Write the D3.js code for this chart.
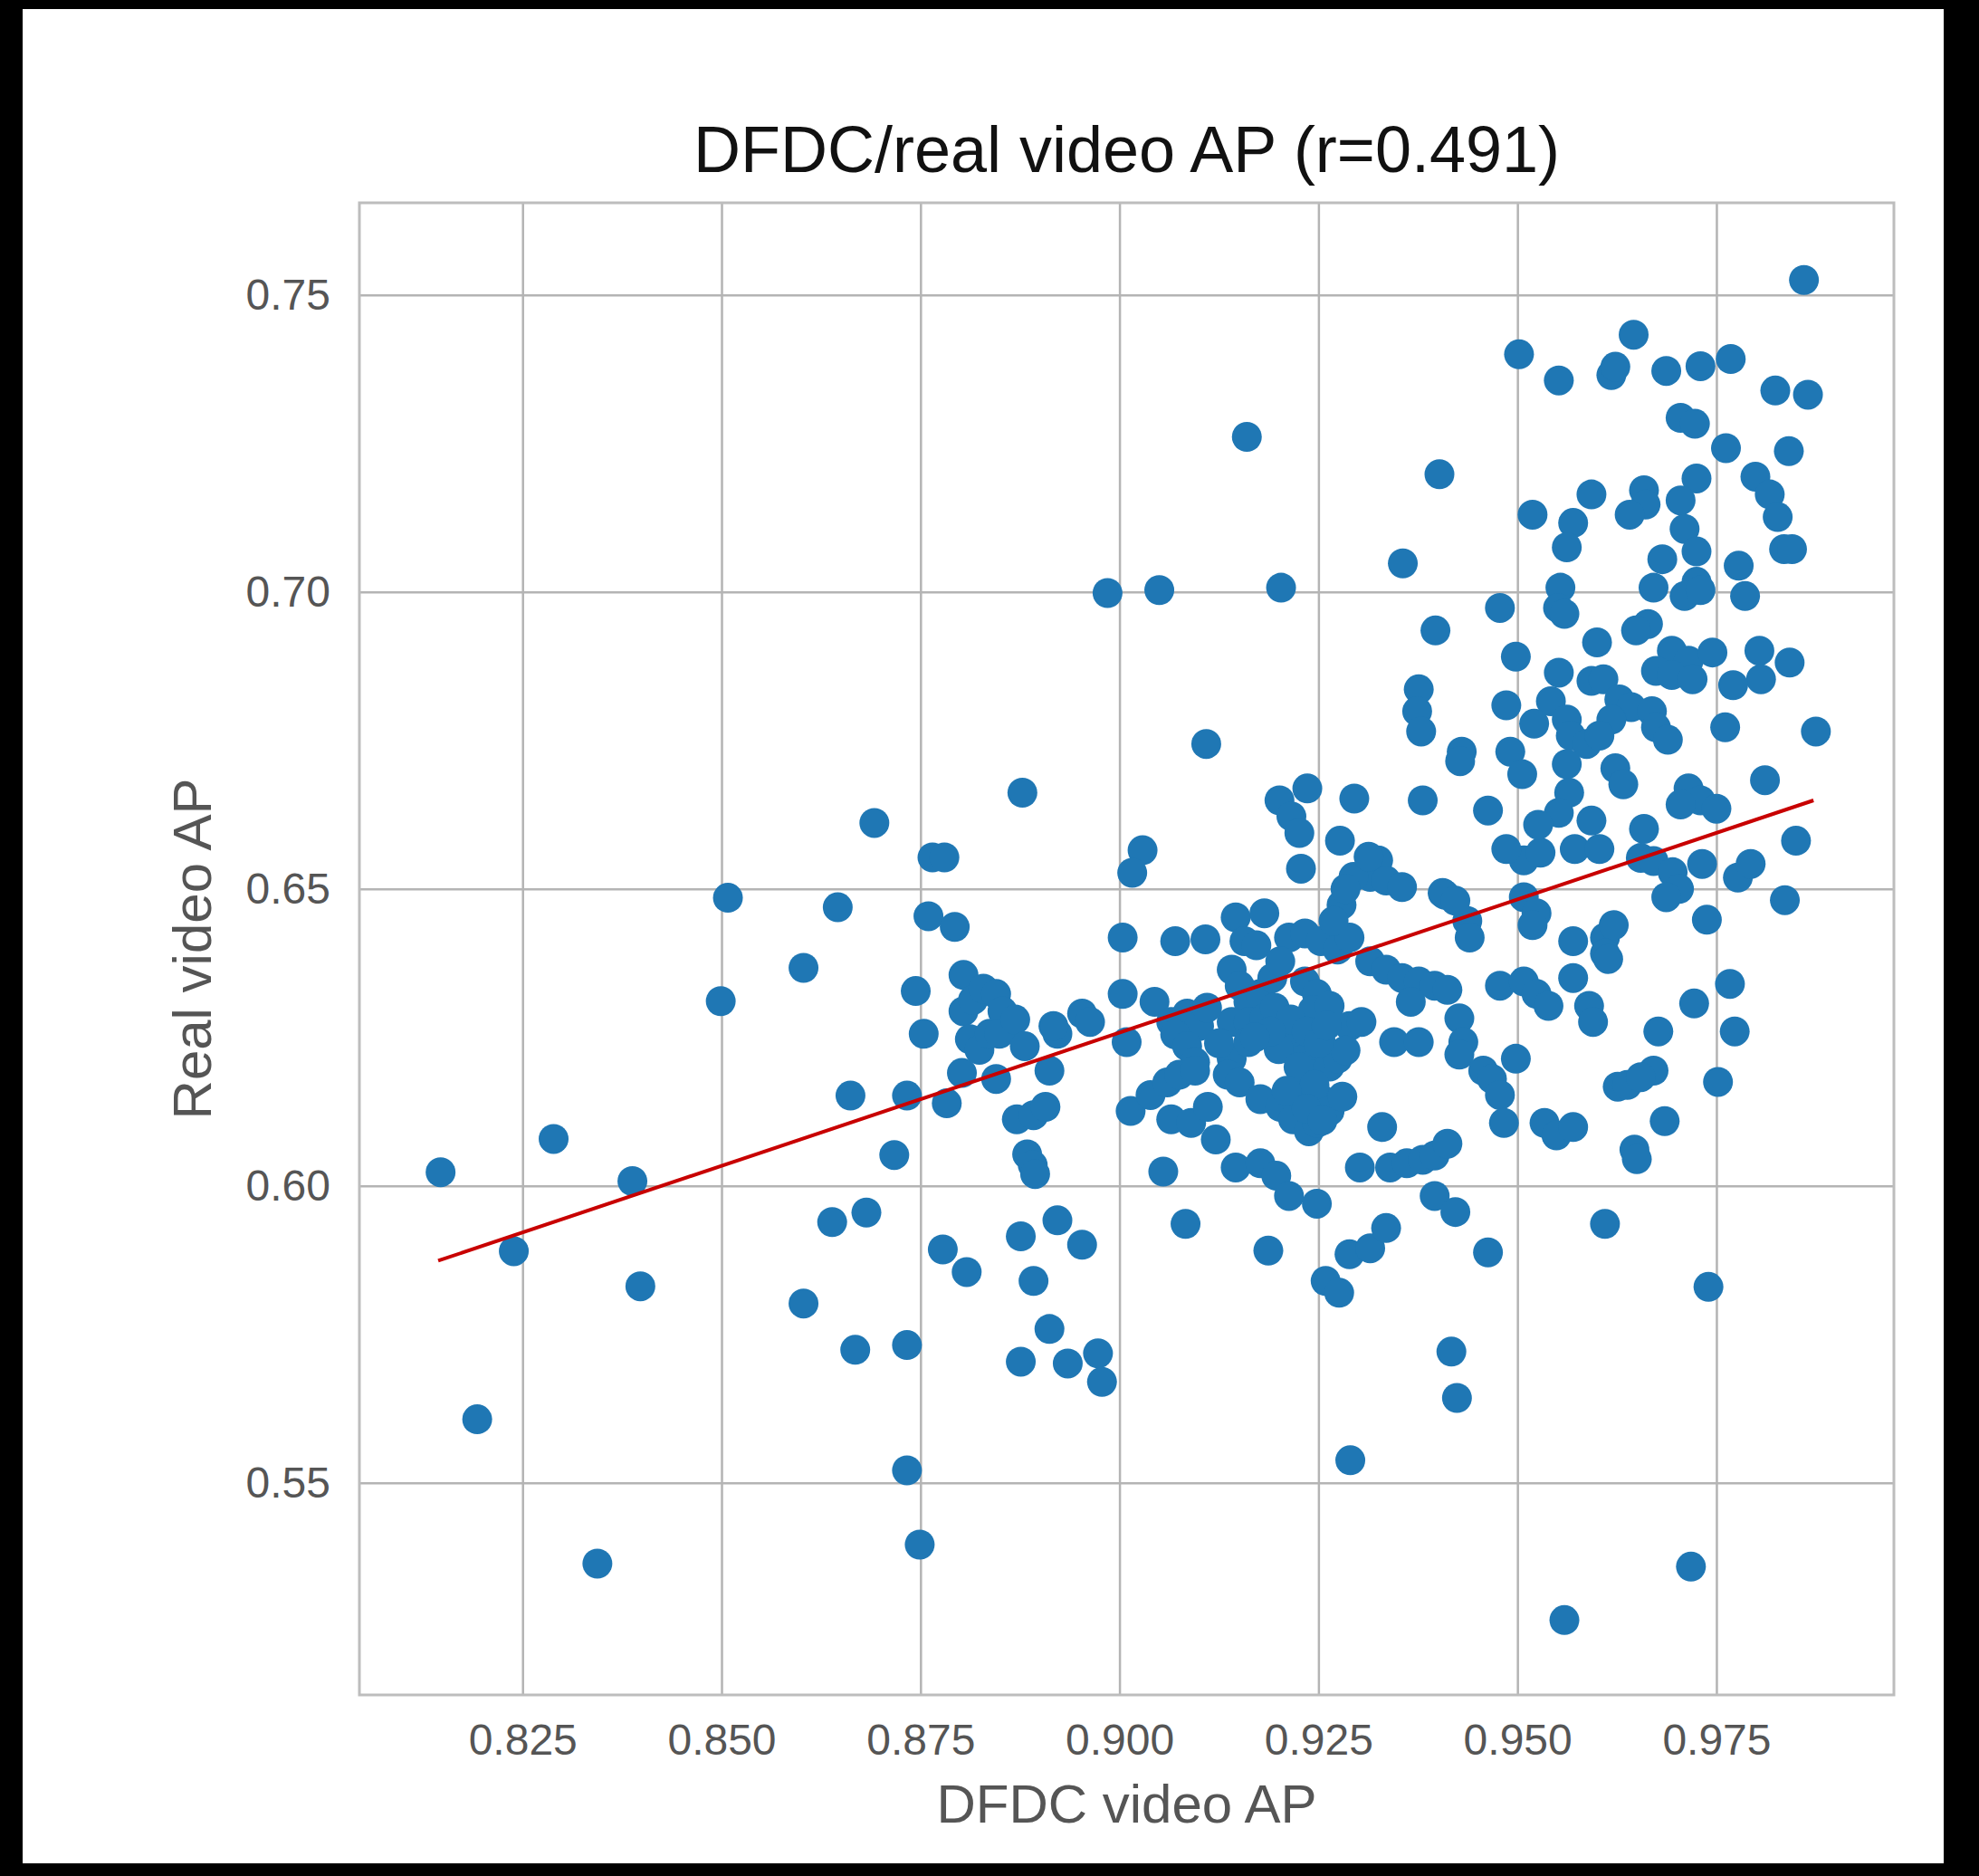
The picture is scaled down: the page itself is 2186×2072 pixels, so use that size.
<!DOCTYPE html>
<html>
<head>
<meta charset="utf-8">
<script src="https://cdn.jsdelivr.net/npm/d3@7"></script>
<style>
    body { margin: 0; background: #000; }
    #chart { width: 2186px; height: 2072px; }
    text { font-family: "Liberation Sans", Arial, sans-serif; }
</style>
</head>
<body>
<div id="chart"></div>
<script>

// DFDC video AP (x) and real video AP (y), one entry per model
let dfdcAP = [
    0.8147, 0.8193, 0.8239, 0.8289, 0.8344, 0.8388, 0.8398, 0.8499, 0.8508, 0.8603,
    0.8603, 0.8646, 0.8639, 0.8662, 0.8668, 0.8682, 0.8692, 0.8717, 0.8733, 0.8733,
    0.8733, 0.8749, 0.8744, 0.8754, 0.8765, 0.8780, 0.8760, 0.8793, 0.8804, 0.8783,
    0.8802, 0.8778, 0.8808, 0.8804, 0.8816, 0.8829, 0.8845, 0.8853, 0.8861, 0.8812,
    0.8824, 0.8837, 0.8849, 0.8869, 0.8922, 0.8884, 0.8891, 0.8894, 0.8878, 0.8985,
    0.9050, 0.9109, 0.9160, 0.9290, 0.9029, 0.9016, 0.9228, 0.9325, 0.9315, 0.9335,
    0.9355, 0.9294, 0.9409, 0.9437, 0.9440, 0.9508, 0.9529, 0.9004, 0.9146, 0.9182,
    0.9070, 0.9108, 0.9157, 0.9172, 0.9213, 0.9233, 0.9253, 0.9274, 0.9289, 0.9279,
    0.9269, 0.9284, 0.9406, 0.9422, 0.9508, 0.9524, 0.9519, 0.9570, 0.9610, 0.9621,
    0.9004, 0.9044, 0.9065, 0.9085, 0.9100, 0.9141, 0.9151, 0.9162, 0.9177, 0.9192,
    0.9202, 0.9141, 0.9162, 0.9182, 0.9202, 0.9233, 0.9248, 0.9243, 0.9264, 0.9315,
    0.9335, 0.9355, 0.9376, 0.9396, 0.9412, 0.9366, 0.9478, 0.9508, 0.9524, 0.9539,
    0.9570, 0.9590, 0.9595, 0.9610, 0.8917, 0.8953, 0.8963, 0.8881, 0.8912, 0.9009,
    0.9070, 0.9085, 0.9095, 0.9141, 0.9136, 0.9151, 0.9162, 0.9218, 0.9233, 0.9243,
    0.9253, 0.9264, 0.9274, 0.9289, 0.9304, 0.9284, 0.9345, 0.9376, 0.9427, 0.9432,
    0.9427, 0.9457, 0.9468, 0.9478, 0.9498, 0.9626, 0.8845, 0.8871, 0.8892, 0.8907,
    0.9014, 0.9039, 0.9060, 0.9075, 0.9095, 0.9065, 0.9090, 0.9111, 0.9121, 0.9177,
    0.9202, 0.9218, 0.9238, 0.9248, 0.9233, 0.9253, 0.9264, 0.9055, 0.9146, 0.9177,
    0.9197, 0.9213, 0.9248, 0.9302, 0.9340, 0.9361, 0.9381, 0.9396, 0.9412, 0.9330,
    0.9483, 0.9534, 0.9549, 0.9570, 0.8876, 0.8922, 0.8953, 0.8892, 0.8912, 0.8876,
    0.8935, 0.8973, 0.8978, 0.9083, 0.9187, 0.9259, 0.9276, 0.9289, 0.9315, 0.9335,
    0.9396, 0.9422, 0.9463, 0.9417, 0.9424, 0.9610, 0.9655, 0.9671, 0.9695, 0.9703,
    0.9687, 0.9732, 0.9777, 0.9793, 0.9836, 0.9738, 0.9767, 0.9722, 0.9677, 0.9773,
    0.9671, 0.9752, 0.9685, 0.9647, 0.9740, 0.9718, 0.9559, 0.9650, 0.9638, 0.9655,
    0.9614, 0.9860, 0.9646, 0.9502, 0.9552, 0.9618, 0.9623, 0.9687, 0.9730, 0.9768,
    0.9824, 0.9865, 0.9705, 0.9723, 0.9762, 0.9841, 0.9402, 0.9725, 0.9799, 0.9593,
    0.9519, 0.9570, 0.9562, 0.9659, 0.9661, 0.9641, 0.9705, 0.9817, 0.9827, 0.9710,
    0.9725, 0.9835, 0.9845, 0.9356, 0.9682, 0.9778, 0.9203, 0.9671, 0.9725, 0.9710,
    0.9730, 0.9786, 0.9554, 0.9551, 0.9559, 0.9478, 0.9397, 0.9664, 0.9649, 0.9600,
    0.9498, 0.9694, 0.9715, 0.9745, 0.9674, 0.9694, 0.9720, 0.9804, 0.9806, 0.9842,
    0.9552, 0.9593, 0.9608, 0.9376, 0.9374, 0.9379, 0.9486, 0.9542, 0.9562, 0.9567,
    0.9587, 0.9628, 0.9643, 0.9618, 0.9603, 0.9669, 0.9674, 0.9689, 0.9521, 0.9771,
    0.9761, 0.9875, 0.9430, 0.9428, 0.9491, 0.9506, 0.9562, 0.9565, 0.9623, 0.9633,
    0.9236, 0.9201, 0.9216, 0.9226, 0.9295, 0.9381, 0.9463, 0.9811, 0.9715, 0.9730,
    0.9750, 0.9705, 0.9659, 0.9593, 0.9552, 0.9526, 0.9850, 0.9277, 0.9313, 0.9486,
    0.9572, 0.9603,
    // overlapping points in the dense middle cluster
    0.9195, 0.9215, 0.9235, 0.9250, 0.9200, 0.9225, 0.9245, 0.9210, 0.9235, 0.9255,
    0.9190, 0.9260, 0.9125, 0.9110, 0.9170, 0.9280
];

let realAP = [
    0.6023, 0.5607, 0.5890, 0.6079, 0.5364, 0.6008, 0.5831, 0.6311, 0.6485, 0.6367,
    0.5802, 0.6469, 0.5939, 0.6152, 0.5724, 0.5955, 0.6611, 0.6052, 0.6152, 0.5732,
    0.5521, 0.5396, 0.6328, 0.6256, 0.6553, 0.6553, 0.6454, 0.6436, 0.6355, 0.6139,
    0.6190, 0.5893, 0.5855, 0.6294, 0.6313, 0.6332, 0.6323, 0.6294, 0.6265, 0.6247,
    0.6229, 0.6256, 0.6256, 0.6280, 0.6256, 0.6053, 0.6035, 0.6020, 0.6662, 0.6998,
    0.7003, 0.6744, 0.7261, 0.5538, 0.6565, 0.6527, 0.6534, 0.6548, 0.6520, 0.6514,
    0.6503, 0.6520, 0.6490, 0.6446, 0.6418, 0.6548, 0.6561, 0.6418, 0.6452, 0.6459,
    0.6412, 0.6415, 0.6412, 0.6405, 0.6418, 0.6425, 0.6412, 0.6398, 0.6418, 0.6473,
    0.6446, 0.6500, 0.6493, 0.6480, 0.6486, 0.6459, 0.6439, 0.6412, 0.6418, 0.6439,
    0.6323, 0.6310, 0.6276, 0.6290, 0.6269, 0.6364, 0.6337, 0.6310, 0.6323, 0.6350,
    0.6378, 0.6276, 0.6276, 0.6282, 0.6269, 0.6344, 0.6323, 0.6296, 0.6303, 0.6378,
    0.6364, 0.6350, 0.6344, 0.6337, 0.6330, 0.6310, 0.6337, 0.6344, 0.6323, 0.6303,
    0.6350, 0.6303, 0.6276, 0.6391, 0.6269, 0.6290, 0.6276, 0.6235, 0.6194, 0.6242,
    0.6255, 0.6235, 0.6208, 0.6214, 0.6187, 0.6174, 0.6242, 0.6242, 0.6214, 0.6187,
    0.6242, 0.6201, 0.6214, 0.6269, 0.6276, 0.6228, 0.6242, 0.6242, 0.6282, 0.6242,
    0.6221, 0.6194, 0.6180, 0.6153, 0.6214, 0.6167, 0.6180, 0.6112, 0.6119, 0.6133,
    0.6126, 0.6153, 0.6174, 0.6187, 0.6194, 0.6112, 0.6106, 0.6133, 0.6078, 0.6146,
    0.6133, 0.6112, 0.6092, 0.6106, 0.6160, 0.6146, 0.6126, 0.6024, 0.6031, 0.6038,
    0.6017, 0.5983, 0.5970, 0.6031, 0.6031, 0.6038, 0.6044, 0.6051, 0.6071, 0.6099,
    0.6106, 0.6106, 0.6085, 0.6099, 0.5915, 0.5942, 0.5901, 0.5840, 0.5759, 0.5704,
    0.5701, 0.5718, 0.5670, 0.5936, 0.5891, 0.5840, 0.5820, 0.5885, 0.5895, 0.5929,
    0.5983, 0.5956, 0.5888, 0.5721, 0.5643, 0.5936, 0.6552, 0.6547, 0.6528, 0.6500,
    0.6486, 0.6542, 0.6519, 0.6542, 0.6481, 0.6448, 0.6340, 0.6307, 0.6260, 0.6260,
    0.6194, 0.6175, 0.6109, 0.6061, 0.5830, 0.5359, 0.5269, 0.6045, 0.6170, 0.6183,
    0.6382, 0.7525, 0.7433, 0.7400, 0.7356, 0.7365, 0.7379, 0.7372, 0.7380, 0.7392,
    0.7339, 0.7332, 0.7293, 0.7283, 0.7242, 0.7237, 0.7198, 0.7191, 0.7194, 0.7164,
    0.7130, 0.7116, 0.7075, 0.7171, 0.7147, 0.7130, 0.7154, 0.7164, 0.7126, 0.7106,
    0.7068, 0.7072, 0.7072, 0.7048, 0.7055, 0.7044, 0.7007, 0.7007, 0.7017, 0.6993,
    0.7003, 0.6993, 0.7007, 0.6973, 0.6963, 0.6973, 0.6935, 0.6946, 0.6935, 0.6915,
    0.6891, 0.6901, 0.6884, 0.6898, 0.6867, 0.6860, 0.6853, 0.6901, 0.6853, 0.6881,
    0.6864, 0.6850, 0.6853, 0.6836, 0.6799, 0.6765, 0.6809, 0.6816, 0.6785, 0.6758,
    0.6744, 0.6819, 0.6806, 0.6785, 0.6758, 0.6799, 0.6772, 0.6751, 0.6778, 0.6843,
    0.6772, 0.6765, 0.6731, 0.6715, 0.6731, 0.6693, 0.6710, 0.6662, 0.6703, 0.6676,
    0.6669, 0.6649, 0.6622, 0.6594, 0.6652, 0.6649, 0.6632, 0.6683, 0.6669, 0.6649,
    0.6635, 0.6642, 0.6601, 0.6615, 0.6628, 0.6608, 0.6581, 0.6581, 0.6554, 0.6567,
    0.6567, 0.6567,
    0.6300, 0.6280, 0.6260, 0.6240, 0.6230, 0.6200, 0.6170, 0.6160, 0.6130, 0.6110,
    0.6260, 0.6270, 0.6240, 0.6300, 0.6250, 0.6150
];

// least squares fit, endpoints at the min / max DFDC AP
let fitX = [0.8144, 0.9872];
let fitY = [0.5874, 0.6649];

let xTicks = [0.825, 0.850, 0.875, 0.900, 0.925, 0.950, 0.975];
let yTicks = [0.55, 0.60, 0.65, 0.70, 0.75];

let chartTitle = "DFDC/real video AP (r=0.491)";
let xLabel = "DFDC video AP";
let yLabel = "Real video AP";


class ScatterVis {
    constructor(parentElement) {
        this.parentElement = parentElement;
        this.displayData = dfdcAP.map((d, i) => ({x: d, y: realAP[i]}));

        this.initVis();
    }

    initVis() {
        let vis = this;

        vis.fullWidth = 2186;
        vis.fullHeight = 2072;
        vis.margin = {top: 224, right: 94, bottom: 200, left: 397};
        vis.width = vis.fullWidth - vis.margin.left - vis.margin.right;
        vis.height = vis.fullHeight - vis.margin.top - vis.margin.bottom;

        let root = d3.select("#" + vis.parentElement).append("svg")
            .attr("width", vis.fullWidth)
            .attr("height", vis.fullHeight);

        // black border round the white figure
        root.append("rect")
            .attr("width", vis.fullWidth)
            .attr("height", vis.fullHeight)
            .attr("fill", "#000");
        root.append("rect")
            .attr("x", 25).attr("y", 10)
            .attr("width", 2122).attr("height", 2048)
            .attr("fill", "#fff");

        vis.svg = root.append("g")
            .attr("transform", `translate(${vis.margin.left}, ${vis.margin.top})`);

        // Scales
        vis.x = d3.scaleLinear()
            .domain([0.8045, 0.9973])
            .range([0, vis.width]);

        vis.y = d3.scaleLinear()
            .domain([0.5143, 0.7655])
            .range([vis.height, 0]);

        // gridlines drawn as axes with full-length ticks
        vis.xGrid = d3.axisBottom(vis.x)
            .tickValues(xTicks)
            .tickSize(-vis.height)
            .tickFormat("");
        vis.yGrid = d3.axisLeft(vis.y)
            .tickValues(yTicks)
            .tickSize(-vis.width)
            .tickFormat("");

        vis.svg.append("g")
            .attr("class", "grid")
            .attr("transform", "translate(0," + vis.height + ")")
            .call(vis.xGrid);
        vis.svg.append("g")
            .attr("class", "grid")
            .call(vis.yGrid);

        vis.svg.selectAll(".grid .domain").remove();
        vis.svg.selectAll(".grid line")
            .attr("stroke", "#b4b4b4")
            .attr("stroke-width", 2.5);

        // tick labels
        vis.xAxis = d3.axisBottom(vis.x)
            .tickValues(xTicks)
            .tickSize(0)
            .tickPadding(32)
            .tickFormat(d3.format(".3f"));
        vis.yAxis = d3.axisLeft(vis.y)
            .tickValues(yTicks)
            .tickSize(0)
            .tickPadding(32)
            .tickFormat(d3.format(".2f"));

        vis.svg.append("g")
            .attr("class", "x-axis axis")
            .attr("transform", "translate(0," + vis.height + ")")
            .call(vis.xAxis);
        vis.svg.append("g")
            .attr("class", "y-axis axis")
            .call(vis.yAxis);

        vis.svg.selectAll(".axis .domain").remove();
        vis.svg.selectAll(".axis text")
            .attr("font-size", 48)
            .attr("fill", "#555")
            .style("font-family", "'Liberation Sans', Arial, sans-serif");

        // frame
        vis.svg.append("rect")
            .attr("width", vis.width)
            .attr("height", vis.height)
            .attr("fill", "none")
            .attr("stroke", "#bdbdbd")
            .attr("stroke-width", 3);

        // titles
        vis.svg.append("text")
            .attr("x", vis.width / 2)
            .attr("y", -34)
            .attr("text-anchor", "middle")
            .attr("font-size", 72)
            .attr("fill", "#111")
            .text(chartTitle);

        vis.svg.append("text")
            .attr("x", vis.width / 2)
            .attr("y", vis.height + 141)
            .attr("text-anchor", "middle")
            .attr("font-size", 60)
            .attr("fill", "#555")
            .text(xLabel);

        vis.svg.append("text")
            .attr("transform", `translate(-164, ${vis.height / 2}) rotate(-90)`)
            .attr("text-anchor", "middle")
            .attr("font-size", 60)
            .attr("fill", "#555")
            .text(yLabel);

        vis.updateVis();
    }

    updateVis() {
        let vis = this;

        vis.svg.selectAll(".dot")
            .data(vis.displayData)
            .enter()
            .append("circle")
            .attr("class", "dot")
            .attr("cx", d => vis.x(d.x))
            .attr("cy", d => vis.y(d.y))
            .attr("r", 16.5)
            .attr("fill", "#1f77b4");

        // regression line
        let line = d3.line()
            .x(d => vis.x(d[0]))
            .y(d => vis.y(d[1]));

        vis.svg.append("path")
            .datum(fitX.map((d, i) => [d, fitY[i]]))
            .attr("d", line)
            .attr("fill", "none")
            .attr("stroke", "#c80000")
            .attr("stroke-width", 4);
    }
}

new ScatterVis("chart");

</script>
</body>
</html>
